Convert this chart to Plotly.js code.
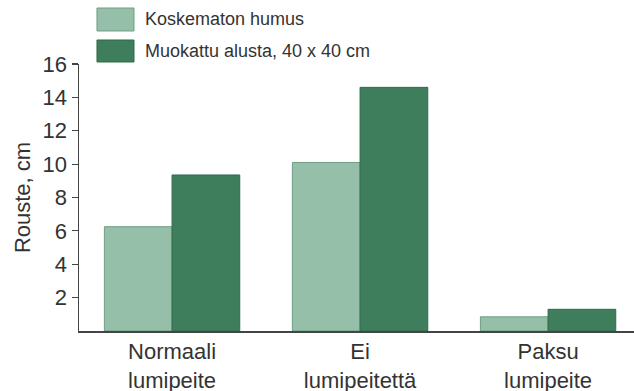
<!DOCTYPE html>
<html>
<head>
<meta charset="utf-8">
<script src="https://cdn.plot.ly/plotly-3.0.1.min.js"></script>
<style>html,body{margin:0;padding:0;background:#fff;}#chart{width:634px;height:391px;}</style>
</head>
<body>
<div id="chart"></div>
<script>
const categories = ["Normaali<br>lumipeite", "Ei<br>lumipeitettä", "Paksu<br>lumipeite"];
const seriesNames = ["Koskematon humus", "Muokattu alusta, 40 x 40 cm"];
const koskematon = [6.25, 10.1, 0.85];
const muokattu = [9.35, 14.6, 1.3];
const yTicks = [2, 4, 6, 8, 10, 12, 14, 16];

const colors = ["#96bfaa", "#3e7e5c"];
const edges = ["#6f9c85", "#2f6a4a"];
const values = [koskematon, muokattu];

const traces = values.map((v, i) => ({
  type: "bar",
  x: [0, 1, 2],
  y: v,
  name: seriesNames[i],
  marker: {color: colors[i], line: {color: edges[i], width: 1}},
  showlegend: false,
  hoverinfo: "skip"
}));

// legend swatches drawn as shapes (paper coords)
const shapes = [];
const annotations = [];
const legY = [[1.2097, 1.1236, 1.1685], [1.0899, 1.0075, 1.0487]];
seriesNames.forEach((n, i) => {
  shapes.push({type: "rect", xref: "paper", yref: "paper", x0: 0.0324, x1: 0.0991,
    y0: legY[i][1], y1: legY[i][0], fillcolor: colors[i], line: {color: edges[i], width: 1}});
  annotations.push({xref: "paper", yref: "paper", x: 0.1153, y: legY[i][2], xanchor: "left", yanchor: "middle",
    text: n, showarrow: false, font: {size: 18, color: "#333", family: "Liberation Sans, Arial, sans-serif"}});
});

const layout = {
  width: 634, height: 391,
  margin: {l: 79, r: 0, t: 64, b: 60},
  paper_bgcolor: "#fff", plot_bgcolor: "#fff",
  font: {family: "Liberation Sans, Arial, sans-serif", color: "#333"},
  barmode: "group", bargap: 0.28, bargroupgap: 0,
  xaxis: {
    range: [-0.495, 2.457], tickvals: [0, 1, 2], ticktext: categories,
    showline: true, linecolor: "#444", linewidth: 1.5, ticks: "", showgrid: false, zeroline: false,
    tickfont: {size: 22, color: "#333"}, fixedrange: true
  },
  yaxis: {
    range: [0, 16], tickvals: yTicks, ticktext: yTicks.map(String),
    showline: true, linecolor: "#444", linewidth: 1.5, ticks: "outside", ticklen: 6, tickcolor: "#444", tickwidth: 1.2,
    showgrid: false, zeroline: false, tickfont: {size: 22, color: "#333"},
    title: {text: "Rouste, cm", font: {size: 22, color: "#333"}, standoff: 6}
  },
  shapes: shapes,
  annotations: annotations
};

Plotly.newPlot("chart", traces, layout, {staticPlot: true, displayModeBar: false});
</script>
</body>
</html>
